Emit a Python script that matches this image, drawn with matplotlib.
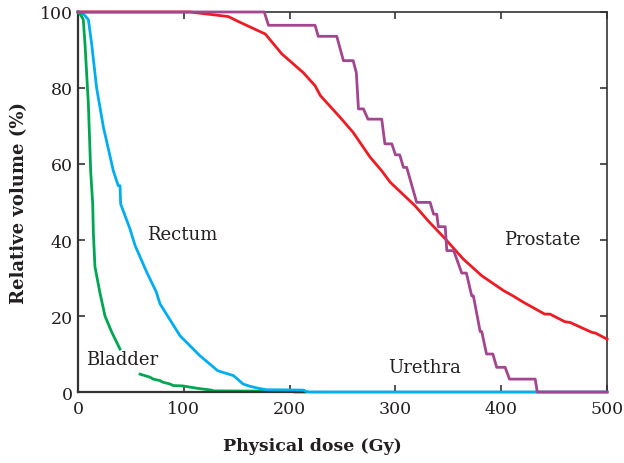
import matplotlib
matplotlib.use("Agg")
import matplotlib.pyplot as plt

plt.rcParams['font.family'] = ['DejaVu Serif']

# dose (Gy) / relative volume (%)
bladder_dose = [0, 3, 5, 6.6, 9.8, 12, 13.9, 14.5, 16, 20.8, 25.5, 31.8, 39.7]
bladder_vol = [100, 99, 98, 91.6, 75.8, 58, 49.5, 42, 33, 26, 20, 15.8, 11.3]
bladder_dose2 = [58.6, 68, 71, 77.5, 80, 87, 90, 99, 112, 126, 128, 200, 205, 215]
bladder_vol2 = [4.7, 3.9, 3.4, 3.0, 2.6, 2.1, 1.7, 1.6, 1.0, 0.5, 0.3, 0.2, 0, 0]

rectum_dose = [0, 5, 9.8, 12.9, 17.6, 24, 33.4, 38, 39.7, 40.3, 49, 54, 65, 74,
               77.5, 96.4, 115, 132, 147, 156, 162.6, 170, 178, 213, 216, 219, 500]
rectum_vol = [100, 99.5, 98, 91.6, 80, 69.7, 58.2, 54.3, 54.3, 49.5, 43, 38.5, 31.5,
              26.3, 23.2, 14.8, 9.6, 5.6, 4.3, 2.1, 1.5, 1.0, 0.6, 0.5, 0.1, 0, 0]

prostate_dose = [0, 106, 142, 153, 177, 192.5, 213, 224, 229, 247.6, 260, 276, 287,
                 295, 318.5, 331, 347, 364, 381.5, 402, 411, 421, 441, 446, 460,
                 465, 485.5, 489, 500]
prostate_vol = [100, 100, 98.8, 97.3, 94.2, 89, 84, 80.6, 78, 72.3, 68.3, 61.8, 58.2,
                55.2, 49, 45, 40.3, 35, 30.6, 26.7, 25.3, 23.6, 20.5, 20.5, 18.5,
                18.3, 15.7, 15.5, 13.9]

urethra_dose = [0, 176, 180, 224, 227, 244.5, 250.8, 260, 263, 265, 269.7, 274, 287,
                290, 296.5, 300, 304, 307.5, 310.6, 320, 332.7, 336, 339, 340.5, 347,
                348.5, 355, 362.6, 367, 372, 373.6, 380, 381.5, 386, 392, 395.6,
                403.6, 407.7, 432, 434, 500]
urethra_vol = [100, 100, 96.5, 96.5, 93.6, 93.6, 87.2, 87.2, 84, 74.5, 74.5, 71.8, 71.8,
               65.3, 65.3, 62.4, 62.4, 59.1, 59.1, 49.9, 49.9, 46.8, 46.8, 43.5, 43.5,
               37.2, 37.2, 31.3, 31.3, 25.3, 25.3, 15.9, 15.9, 10, 10, 6.5,
               6.5, 3.4, 3.4, 0, 0]

labels = ["Rectum", "Bladder", "Urethra", "Prostate"]
label_pos = [(65, 41.6), (7.5, 8.7), (293, 6.5), (403, 40.3)]

fig = plt.figure(figsize=(6.24, 4.64), dpi=100)
ax = fig.add_axes([0.125, 0.153, 0.848, 0.819])

lw = 2.0
ax.plot(rectum_dose, rectum_vol, color="#00aeef", lw=lw, clip_on=False, zorder=3)
ax.plot(bladder_dose, bladder_vol, color="#00a651", lw=lw, clip_on=False, zorder=4)
ax.plot(bladder_dose2, bladder_vol2, color="#00a651", lw=lw, clip_on=False, zorder=2)
ax.plot(prostate_dose, prostate_vol, color="#ed1c24", lw=lw, clip_on=False, zorder=3)
ax.plot(urethra_dose, urethra_vol, color="#a3458f", lw=lw, clip_on=False, zorder=4)

for txt, (x, y) in zip(labels, label_pos):
    ax.text(x, y, txt, fontsize=13, va="center", ha="left", color="#231f20")

ax.set_xlim(0, 500)
ax.set_ylim(0, 100)
ax.set_xticks([0, 100, 200, 300, 400, 500])
ax.set_yticks([0, 20, 40, 60, 80, 100])
ax.tick_params(direction="in", top=True, right=True, length=5, width=1.2,
               labelsize=12.5, color="#333333", labelcolor="#231f20")
ax.tick_params(axis="x", pad=6)
ax.tick_params(axis="y", pad=4)
for s in ax.spines.values():
    s.set_color("#333333")
    s.set_linewidth(1.2)
ax.spines["left"].set_linewidth(1.6)
ax.spines["bottom"].set_linewidth(1.6)

ax.set_xlabel("Physical dose (Gy)", fontsize=12.5, fontweight="bold",
              color="#231f20")
ax.xaxis.set_label_coords(0.442, -0.118)
ax.set_ylabel("Relative volume (%)", fontsize=13, fontweight="bold", labelpad=8,
              color="#231f20")

fig.savefig("out.png", dpi=100)
